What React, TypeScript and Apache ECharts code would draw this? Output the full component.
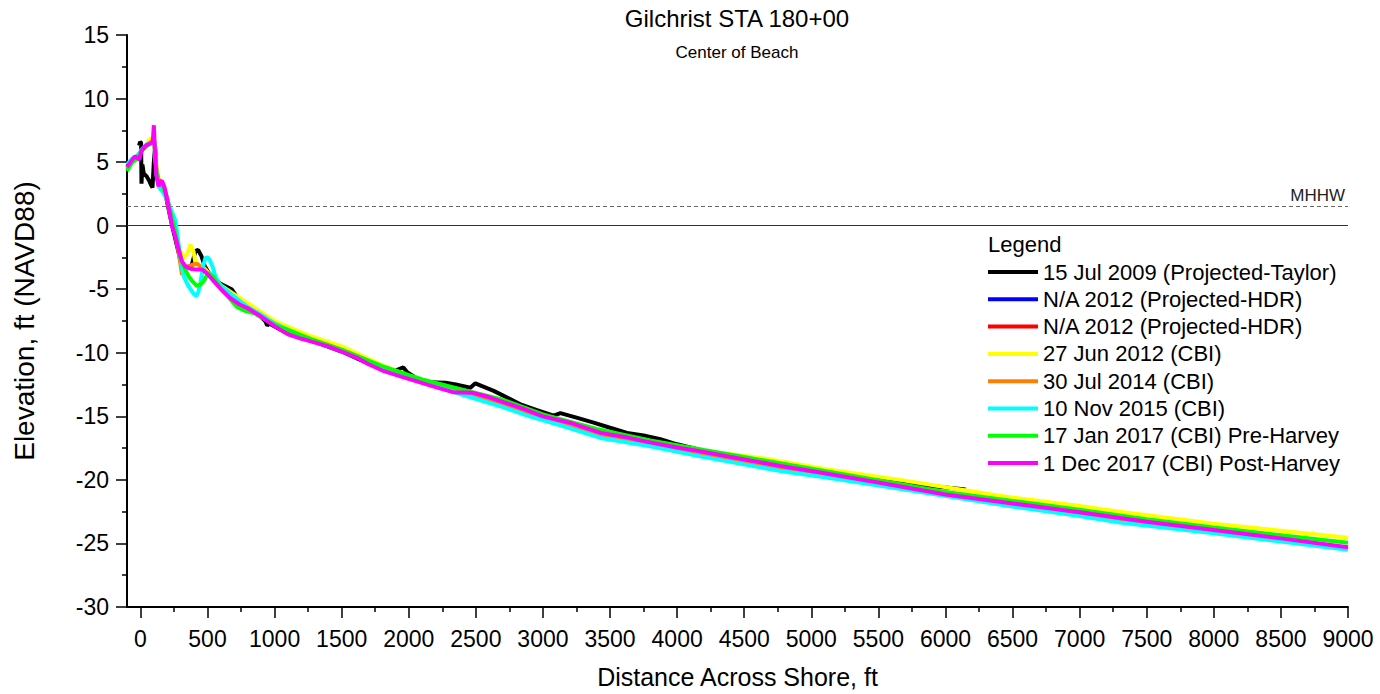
import { useEffect, useRef } from "react";
import * as echarts from "echarts";

const TITLE = "Gilchrist STA 180+00";
const SUBTITLE = "Center of Beach";
const X_NAME = "Distance Across Shore, ft";
const Y_NAME = "Elevation, ft (NAVD88)";
const LEGEND_TITLE = "Legend";
const MHHW_LABEL = "MHHW";
const MHHW_VALUE = 1.5;

const X_MIN = -100;
const X_MAX = 9000;
const Y_MIN = -30;
const Y_MAX = 15;
const Y_STEP = 5;
const X_MAJOR_TICKS = [0, 500, 1000, 1500, 2000, 2500, 3000, 3500, 4000, 4500, 5000, 5500, 6000, 6500, 7000, 7500, 8000, 8500, 9000];
const X_MINOR_TICKS = [250, 750, 1250, 1750, 2250, 2750, 3250, 3750, 4250, 4750, 5250, 5750, 6250, 6750, 7250, 7750, 8250, 8750];

const SERIES_NAMES = [
  "15 Jul 2009 (Projected-Taylor)",
  "N/A 2012 (Projected-HDR)",
  "N/A 2012 (Projected-HDR) ",
  "27 Jun 2012 (CBI)",
  "30 Jul 2014 (CBI)",
  "10 Nov 2015 (CBI)",
  "17 Jan 2017 (CBI) Pre-Harvey",
  "1 Dec 2017 (CBI) Post-Harvey",
];
const SERIES_COLORS = ["#000000", "#0000ff", "#ff0000", "#ffff00", "#ff8000", "#00ffff", "#00ff00", "#ff00ff"];

const jul2009 = [
  [-10, 6.3], [-2, 6.6], [5, 6.5], [8, 3.3], [15, 4.8], [25, 4.1], [45, 3.9], [62, 3.6], [75, 3.3], [90, 3.0],
  [100, 5.0], [110, 6.2], [118, 4.2], [135, 3.3], [160, 3.1], [190, 2.3], [220, 0.8], [250, -0.6], [275, -1.7],
  [300, -2.8], [330, -3.3], [380, -3.2], [410, -2.0], [430, -1.9], [455, -2.4], [480, -3.2], [520, -3.9],
  [570, -4.4], [620, -4.7], [650, -4.85], [680, -5.0], [720, -5.6], [800, -6.5], [880, -7.0], [930, -7.5],
  [945, -7.85], [960, -7.7], [1100, -8.5], [1300, -9.15], [1500, -9.9], [1700, -10.85], [1900, -11.4], [1960, -11.15],
  [1990, -11.55], [2100, -12.3], [2273, -12.35], [2350, -12.5], [2459, -12.75], [2496, -12.4], [2633, -13.0],
  [2832, -14.05], [2950, -14.5], [3080, -14.95], [3130, -14.75], [3250, -15.1], [3378, -15.5], [3500, -15.9],
  [3627, -16.3], [3750, -16.5], [3875, -16.8], [4000, -17.2], [4173, -17.65], [4400, -18.2], [4600, -18.6],
  [4800, -18.85], [5117, -19.45], [5400, -19.8], [5700, -20.2], [5911, -20.5], [6150, -20.75],
];
const hdr2012a: number[][] = [];
const hdr2012b: number[][] = [];
const jun2012 = [
  [-100, 4.5], [-60, 5.1], [-20, 5.3], [10, 5.9], [50, 6.5], [80, 6.9], [100, 6.8], [120, 4.5], [140, 3.6],
  [170, 3.2], [200, 2.0], [230, 0.5], [260, -0.6], [290, -1.8], [320, -2.6], [350, -2.2], [373, -1.5],
  [395, -2.0], [410, -2.9], [440, -3.1], [480, -3.4], [540, -4.1], [600, -4.7], [700, -5.4], [800, -6.1],
  [900, -6.8], [1000, -7.5], [1270, -8.7], [1500, -9.5], [1815, -11.05], [2000, -11.8], [2285, -12.7],
  [2500, -13.2], [2700, -13.9], [3000, -15.0], [3400, -16.1], [3800, -17.0], [4100, -17.6], [4420, -18.0],
  [4700, -18.4], [4800, -18.6], [5100, -19.15], [5660, -20.0], [6110, -20.75], [6500, -21.4], [7000, -22.05],
  [7300, -22.5], [8000, -23.45], [8500, -24.0], [9000, -24.55],
];
const jul2014 = [
  [-100, 4.5], [-40, 5.3], [0, 5.8], [50, 6.3], [90, 6.7], [105, 6.6], [120, 4.3], [140, 3.4], [170, 3.1],
  [200, 2.2], [230, 0.6], [255, -0.5], [280, -1.8], [298, -3.0], [310, -3.85], [330, -3.5], [348, -3.2],
  [380, -3.1], [422, -3.0], [472, -3.45], [520, -4.0], [580, -4.6], [650, -5.3], [750, -6.1], [850, -6.8],
  [1000, -7.7], [1200, -8.7], [1500, -9.8], [1800, -11.1], [2100, -12.2], [2400, -13.0], [2700, -14.05],
  [3000, -15.2], [3400, -16.4], [3800, -17.2], [4200, -18.0], [4800, -19.1], [5400, -20.15], [6000, -21.2],
  [6500, -21.95], [7000, -22.65], [7500, -23.4], [8000, -24.05], [8500, -24.7], [9000, -25.35],
];
const nov2015 = [
  [-100, 4.8], [-60, 5.3], [-20, 5.5], [10, 6.0], [50, 6.4], [95, 6.6], [105, 6.5], [120, 4.0], [140, 3.0],
  [170, 2.6], [200, 2.0], [230, 1.2], [261, 0.4], [285, -1.5], [305, -3.0], [323, -4.0], [350, -4.6],
  [373, -5.0], [400, -5.4], [417, -5.55], [432, -5.2], [447, -4.5], [465, -3.3], [484, -2.55], [500, -2.5],
  [517, -2.7], [540, -3.3], [559, -4.0], [590, -4.6], [621, -4.9], [700, -5.6], [800, -6.4], [900, -7.0],
  [1000, -7.7], [1270, -9.0], [1500, -9.85], [1800, -11.2], [2100, -12.3], [2400, -13.3], [2708, -14.3],
  [2900, -15.0], [3130, -15.7], [3430, -16.7], [3800, -17.35], [4170, -18.15], [4770, -19.3], [5100, -19.8],
  [5600, -20.6], [6110, -21.45], [6500, -22.1], [7000, -22.85], [7300, -23.35], [8000, -24.2], [8500, -24.85],
  [9000, -25.5],
];
const jan2017 = [
  [-100, 4.3], [-60, 5.0], [-20, 5.3], [10, 5.9], [50, 6.3], [90, 6.6], [105, 6.4], [120, 4.2], [140, 3.4],
  [170, 3.0], [200, 2.1], [230, 0.8], [255, -0.3], [280, -1.6], [305, -2.8], [335, -3.45], [360, -4.0],
  [385, -4.35], [422, -4.75], [450, -4.6], [472, -4.35], [490, -4.0], [509, -3.7], [540, -4.0], [571, -4.5],
  [620, -5.2], [671, -5.8], [720, -6.4], [780, -6.7], [850, -6.9], [1000, -7.8], [1270, -8.9], [1500, -9.75],
  [1800, -11.05], [2100, -12.1], [2400, -12.9], [2700, -13.7], [3000, -14.85], [3400, -16.0], [3800, -16.9],
  [4200, -17.65], [4800, -18.75], [5400, -19.85], [6000, -20.95], [6500, -21.65], [7000, -22.35],
  [7500, -23.1], [8000, -23.75], [8500, -24.35], [9000, -24.95],
];
const dec2017 = [
  [-100, 4.6], [-80, 4.9], [-60, 5.2], [-40, 5.45], [-20, 5.3], [-8, 5.2], [5, 5.8], [15, 6.0], [40, 6.3],
  [70, 6.45], [92, 6.55], [100, 7.9], [106, 6.4], [118, 4.0], [135, 3.1], [150, 3.5], [162, 3.5], [180, 3.0],
  [200, 2.0], [215, 1.2], [235, 0.0], [260, -0.85], [285, -1.9], [310, -2.8], [335, -3.2], [375, -3.4],
  [420, -3.45], [460, -3.45], [500, -3.8], [550, -4.4], [600, -5.0], [670, -5.7], [740, -6.2], [800, -6.5],
  [900, -7.15], [1000, -7.9], [1100, -8.55], [1200, -8.9], [1270, -9.1], [1400, -9.5], [1500, -9.9],
  [1615, -10.4], [1700, -10.9], [1815, -11.45], [1950, -11.9], [2090, -12.35], [2200, -12.7], [2330, -13.1],
  [2480, -13.15], [2600, -13.5], [2710, -13.9], [2850, -14.4], [3000, -15.0], [3200, -15.5], [3430, -16.3],
  [3600, -16.6], [3750, -16.95], [4000, -17.45], [4170, -17.75], [4400, -18.2], [4770, -18.9], [5000, -19.3],
  [5500, -20.2], [6000, -21.15], [6500, -21.85], [7000, -22.55], [7500, -23.3], [8000, -23.95],
  [8500, -24.6], [9000, -25.3],
];
const SERIES_DATA = [jul2009, hdr2012a, hdr2012b, jun2012, jul2014, nov2015, jan2017, dec2017];

const FONT = "'Liberation Sans', Arial, sans-serif";

export default function App() {
  const ref = useRef<HTMLDivElement>(null);
  useEffect(() => {
    if (!ref.current) return;
    const chart = echarts.init(ref.current, null, { renderer: "svg" });
    const series: any[] = SERIES_NAMES.map((name, i) => ({
      name,
      type: "line",
      data: SERIES_DATA[i],
      showSymbol: false,
      symbol: "none",
      clip: true,
      lineStyle: { color: SERIES_COLORS[i], width: 4 },
      itemStyle: { color: SERIES_COLORS[i] },
      z: 2 + i,
    }));
    series[0].markLine = {
      silent: true,
      symbol: ["none", "none"],
      animation: false,
      data: [
        { yAxis: 0, lineStyle: { color: "#333", type: "solid", width: 1.2 }, label: { show: false } },
        {
          yAxis: MHHW_VALUE,
          lineStyle: { color: "#666", type: [4, 3], width: 1.2 },
          label: {
            show: true,
            position: "insideEndTop",
            formatter: MHHW_LABEL,
            fontSize: 17,
            fontFamily: FONT,
            color: "#222",
            distance: 3,
          },
        },
      ],
    };
    chart.setOption({
      animation: false,
      backgroundColor: "#fff",
      textStyle: { fontFamily: FONT },
      title: {
        text: TITLE,
        subtext: SUBTITLE,
        left: 737,
        top: 6,
        textAlign: "center",
        padding: 0,
        itemGap: 14,
        textStyle: { fontSize: 24, fontWeight: "normal", color: "#000", fontFamily: FONT },
        subtextStyle: { fontSize: 17, color: "#000", fontFamily: FONT },
      },
      grid: { left: 127, right: 32, top: 35, bottom: 87, containLabel: false, outerBoundsMode: "none" },
      legend: {
        data: SERIES_NAMES,
        orient: "vertical",
        left: 988,
        top: 261,
        itemWidth: 50,
        itemHeight: 4,
        itemGap: 5.3,
        icon: "rect",
        padding: 0,
        selectedMode: false,
        textStyle: { fontSize: 22, lineHeight: 22, color: "#000", fontFamily: FONT },
      },
      graphic: [
        {
          type: "text",
          left: 988,
          top: 233,
          style: { text: LEGEND_TITLE, fontSize: 22, fill: "#000", fontFamily: FONT },
        },
      ],
      xAxis: [
        {
          type: "value",
          min: X_MIN,
          max: X_MAX,
          position: "bottom",
          name: X_NAME,
          nameLocation: "middle",
          nameGap: 57,
          nameTextStyle: { fontSize: 25, color: "#000", fontFamily: FONT },
          axisLine: { show: true, onZero: false, lineStyle: { color: "#000", width: 2 } },
          axisTick: { show: true, customValues: X_MAJOR_TICKS, length: 11, lineStyle: { color: "#000", width: 1.5 } },
          axisLabel: {
            show: true,
            customValues: X_MAJOR_TICKS,
            margin: 20,
            fontSize: 23,
            color: "#000",
            fontFamily: FONT,
            formatter: (v: number) => String(v),
          },
          splitLine: { show: false },
        },
        {
          type: "value",
          min: X_MIN,
          max: X_MAX,
          position: "bottom",
          axisLine: { show: false, onZero: false },
          axisTick: { show: true, customValues: X_MINOR_TICKS, length: 5, lineStyle: { color: "#000", width: 1.5 } },
          axisLabel: { show: false },
          splitLine: { show: false },
        },
      ],
      yAxis: {
        type: "value",
        min: Y_MIN,
        max: Y_MAX,
        interval: Y_STEP,
        name: Y_NAME,
        nameLocation: "middle",
        nameGap: 89,
        nameTextStyle: { fontSize: 28, color: "#000", fontFamily: FONT },
        axisLine: { show: true, onZero: false, lineStyle: { color: "#000", width: 2 } },
        axisTick: { show: true, length: 11, lineStyle: { color: "#000", width: 1.5 } },
        minorTick: { show: true, splitNumber: 2, length: 5, lineStyle: { color: "#000", width: 1.5 } },
        axisLabel: { margin: 18, fontSize: 23, color: "#000", fontFamily: FONT, formatter: (v: number) => String(v) },
        splitLine: { show: false },
        minorSplitLine: { show: false },
      },
      series,
    });
    return () => chart.dispose();
  }, []);
  return (
    <div
      ref={ref}
      style={{ position: "fixed", left: 0, top: 0, width: 1380, height: 694, background: "#fff" }}
    />
  );
}
